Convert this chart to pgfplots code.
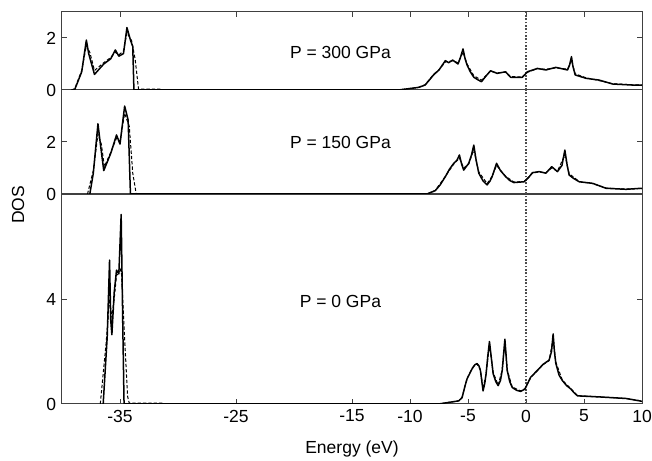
\documentclass[border=0pt]{standalone}
\usepackage{pgfplots}
\pgfplotsset{compat=1.18}
\usepackage{fontspec}
\setmainfont{Liberation Sans}

\pgfplotsset{
  panel/.style={
    scale only axis, width=348pt,
    xmin=-40, xmax=10, ymin=0,
    axis line style={black!75, line width=0.6pt},
    every tick/.style={black!75, line width=0.6pt},
    major tick length=3pt,
    ytick pos=both,
    tick label style={font=\fontsize{10.5}{12}\selectfont},
    /pgf/number format/assume math mode=true,
    xtick={-35,-25,-15,-10,-5,0,5,10},
  },
  dos/.style={black, line width=0.9pt, line join=round},
  dosb/.style={black, line width=0.6pt, dash pattern=on 2pt off 1.2pt},
  fermi/.style={black!70, line width=1pt, dash pattern=on 1pt off 1pt},
}

\begin{document}
\begin{tikzpicture}
\useasboundingbox (0,0) rectangle (391.2pt,276pt);

% bottom panel: P = 0 GPa
\begin{axis}[panel, at={(37.2pt,33.6pt)}, anchor=south west,
  height=126pt, ymax=8, ytick={0,4}, xtick pos=left,
  xlabel={Energy (eV)},
  xlabel style={font=\fontsize{10.5}{12}\selectfont, yshift=-4pt}]
\addplot[fermi] coordinates {(0,0) (0,8)};
\addplot[dosb] coordinates {(-36.7,0) (-36.2,2.3) (-35.9,4.0) (-35.7,3.3) (-35.5,4.0) (-35.3,4.9) (-35.05,5.0) (-34.9,5.2) (-34.6,2.5) (-34.35,0.3) (-34.2,0.03) (-31.3,0.03) (-31.2,0) (-7.53,0) (-5.8,0.12) (-5.51,0.26) (-5.08,0.98) (-4.65,1.36) (-4.4,1.5) (-4.22,1.52) (-3.93,1.3) (-3.7,0.6) (-3.44,1.15) (-3.15,2.25) (-2.83,1.2) (-2.4,0.72) (-2.05,1.3) (-1.82,2.35) (-1.62,1.3) (-1.19,0.65) (-0.46,0.5) (-0.09,0.58) (0.4,1.0) (0.98,1.27) (1.47,1.5) (1.99,1.65) (2.34,2.5) (2.57,1.6) (3.14,0.9) (3.87,0.58) (4.44,0.32) (6.32,0.27) (8.63,0.21) (9.78,0.13) (10,0.1)};
\addplot[dos] coordinates {(-36.45,0) (-36.1,2.57) (-35.9,5.48) (-35.8,3.2) (-35.7,2.64) (-35.5,4.25) (-35.3,5.1) (-35.1,4.96) (-34.9,7.22) (-34.75,2.7) (-34.65,0) (-7.53,0) (-5.8,0.12) (-5.51,0.24) (-5.25,0.7) (-5.08,0.96) (-4.65,1.34) (-4.4,1.5) (-4.22,1.54) (-4.05,1.45) (-3.93,1.28) (-3.7,0.5) (-3.55,0.8) (-3.44,1.15) (-3.3,1.8) (-3.15,2.38) (-3.0,1.8) (-2.83,1.15) (-2.6,0.85) (-2.4,0.70) (-2.2,0.9) (-2.05,1.28) (-1.82,2.47) (-1.62,1.28) (-1.4,0.85) (-1.19,0.63) (-0.8,0.52) (-0.46,0.48) (-0.09,0.57) (0.4,1.02) (0.98,1.28) (1.47,1.51) (1.99,1.67) (2.2,2.0) (2.34,2.67) (2.45,2.0) (2.57,1.55) (2.85,1.1) (3.14,0.89) (3.5,0.7) (3.87,0.57) (4.1,0.45) (4.44,0.31) (6.32,0.27) (8.63,0.21) (9.78,0.12) (10,0.1)};
\node[font=\fontsize{10.5}{12}\selectfont] at (axis cs:-16,3.9) {P = 0 GPa};
\end{axis}

% middle panel: P = 150 GPa
\begin{axis}[panel, at={(37.2pt,159.6pt)}, anchor=south west,
  height=62.4pt, ymax=4, ytick={0,2}, xtick=\empty]
\addplot[fermi] coordinates {(0,0) (0,4)};
\addplot[dosb] coordinates {(-37.8,0) (-37.3,0.9) (-36.9,2.3) (-36.6,1.9) (-36.35,1.05) (-35.8,1.6) (-35.3,2.15) (-35.0,2.0) (-34.6,3.1) (-34.2,2.6) (-33.9,0.8) (-33.6,0) (-8.54,0) (-7.82,0.14) (-6.95,0.68) (-6.23,1.15) (-5.74,1.38) (-5.37,1.0) (-4.94,1.15) (-4.5,1.7) (-4.07,0.85) (-3.35,0.4) (-2.92,0.68) (-2.54,1.1) (-1.76,0.68) (-1.04,0.46) (-0.17,0.48) (0.55,0.8) (1.13,0.85) (1.71,0.82) (2.22,1.0) (2.71,0.88) (3.35,1.5) (3.72,0.78) (4.59,0.48) (5.74,0.4) (6.9,0.23) (8.63,0.19) (10,0.21)};
\addplot[dos] coordinates {(-37.6,0) (-37.3,0.8) (-36.9,2.7) (-36.7,1.95) (-36.4,0.9) (-35.8,1.56) (-35.3,2.27) (-35.0,1.92) (-34.6,3.38) (-34.3,2.85) (-34.1,0) (-8.54,0) (-7.82,0.13) (-7.4,0.35) (-6.95,0.67) (-6.6,0.95) (-6.23,1.18) (-5.95,1.3) (-5.74,1.5) (-5.55,1.15) (-5.37,0.92) (-4.94,1.18) (-4.7,1.5) (-4.5,1.88) (-4.3,1.3) (-4.07,0.8) (-3.7,0.5) (-3.35,0.35) (-3.1,0.5) (-2.92,0.67) (-2.54,1.18) (-2.2,0.9) (-1.76,0.67) (-1.4,0.52) (-1.04,0.44) (-0.17,0.47) (0.2,0.62) (0.55,0.82) (1.13,0.86) (1.71,0.8) (2.22,1.05) (2.71,0.86) (3.1,1.1) (3.35,1.69) (3.55,1.1) (3.72,0.73) (4.1,0.6) (4.59,0.47) (5.74,0.41) (6.9,0.22) (8.63,0.18) (9.93,0.22) (10,0.2)};
\node[font=\fontsize{10.5}{12}\selectfont] at (axis cs:-16,2.0) {P = 150 GPa};
\end{axis}

% top panel: P = 300 GPa
\begin{axis}[panel, at={(37.2pt,222pt)}, anchor=south west,
  height=46.8pt, ymax=3, ytick={0,2}, xtick pos=right, xticklabels={}]
\addplot[fermi] coordinates {(0,0) (0,3)};
\addplot[dosb] coordinates {(-39.2,0) (-38.9,0.05) (-38.3,0.75) (-37.9,1.7) (-37.6,1.45) (-37.2,0.75) (-36.4,1.05) (-35.8,1.25) (-35.4,1.45) (-35.1,1.35) (-34.7,1.5) (-34.4,2.2) (-34.0,1.9) (-33.7,1.2) (-33.4,0.03) (-31.4,0.03) (-31.3,0) (-11,0) (-9.26,0.1) (-8.7,0.2) (-7.97,0.6) (-7.5,0.78) (-6.95,1.08) (-6.67,1.1) (-6.32,1.12) (-5.86,1.05) (-5.43,1.45) (-5.08,1.0) (-4.5,0.55) (-3.84,0.38) (-3.5,0.53) (-3.06,0.72) (-2.49,0.66) (-1.76,0.68) (-1.33,0.52) (-0.32,0.5) (0.12,0.68) (0.98,0.82) (1.71,0.8) (2.57,0.85) (3.58,0.8) (3.92,1.15) (4.24,0.62) (5.17,0.47) (6.32,0.36) (7.47,0.24) (9.2,0.2) (10,0.19)};
\addplot[dos] coordinates {(-39.1,0) (-38.9,0.02) (-38.3,0.7) (-37.9,1.92) (-37.7,1.4) (-37.2,0.6) (-36.4,1.0) (-35.8,1.2) (-35.4,1.54) (-35.1,1.3) (-34.7,1.4) (-34.4,2.4) (-34.1,1.92) (-33.9,1.67) (-33.8,0) (-11,0) (-9.26,0.1) (-8.7,0.19) (-8.3,0.4) (-7.97,0.58) (-7.5,0.77) (-6.95,1.13) (-6.67,1.05) (-6.32,1.15) (-5.86,1.0) (-5.65,1.25) (-5.43,1.58) (-5.25,1.2) (-5.08,0.96) (-4.8,0.7) (-4.5,0.49) (-4.1,0.38) (-3.84,0.32) (-3.5,0.51) (-3.06,0.74) (-2.49,0.64) (-1.76,0.70) (-1.33,0.49) (-0.32,0.49) (0.12,0.70) (0.98,0.83) (1.71,0.77) (2.57,0.87) (3.58,0.77) (3.75,0.95) (3.92,1.28) (4.05,0.9) (4.24,0.58) (5.17,0.45) (6.32,0.38) (7.47,0.23) (9.2,0.19) (9.93,0.19) (10,0.18)};
\node[font=\fontsize{10.5}{12}\selectfont] at (axis cs:-16,1.46) {P = 300 GPa};
\end{axis}

\node[rotate=90, font=\fontsize{10.5}{12}\selectfont] at (10.8pt,153pt) {DOS};
\end{tikzpicture}
\end{document}
